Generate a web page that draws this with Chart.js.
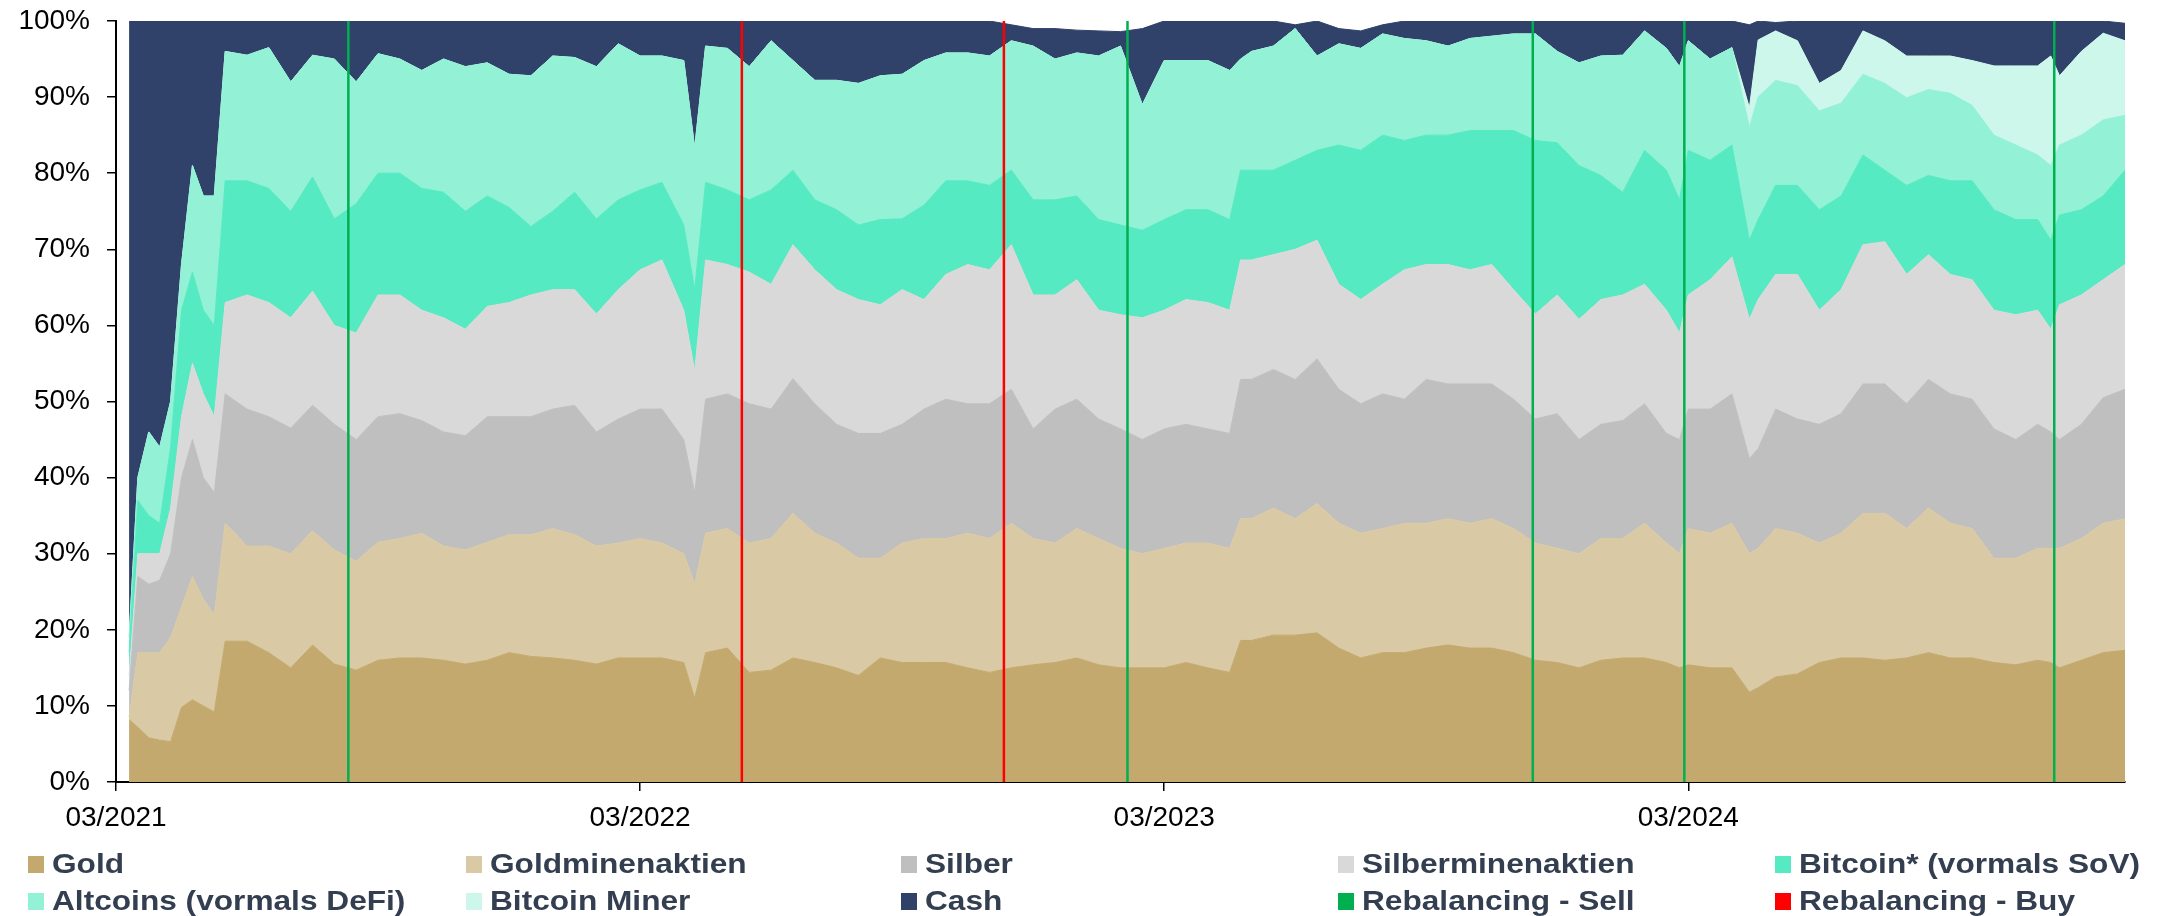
<!DOCTYPE html>
<html>
<head>
<meta charset="utf-8">
<script src="https://cdn.jsdelivr.net/npm/chart.js@4/dist/chart.umd.min.js"></script>
<style>
  body { margin: 0; background: #fff; }
  #wrap { position: relative; width: 2167px; height: 916px; }
  #legend { position: absolute; left: 0; top: 0; width: 2167px; height: 916px; pointer-events: none; }
  .item { position: absolute; display: flex; align-items: center; height: 36px; font: bold 28px "Liberation Sans", Arial, sans-serif; color: #333f50; white-space: nowrap; }
  .box { width: 16px; height: 17px; margin-right: 8px; flex: none; }
  .txt { display: inline-block; transform: scaleX(1.13); transform-origin: left center; }
</style>
</head>
<body>
<div id="wrap">
  <canvas id="chart" width="2167" height="840"></canvas>
  <div id="legend"></div>
</div>
<script>
// months after 03/2021
const months = [0.3, 0.5, 0.75, 1, 1.25, 1.5, 1.75, 2, 2.25, 2.5, 3, 3.5, 4, 4.5, 5, 5.5, 6, 6.5, 7, 7.5,
  8, 8.5, 9, 9.5, 10, 10.5, 11, 11.5, 12, 12.5, 13, 13.25, 13.5, 14, 14.5, 15, 15.5, 16, 16.5, 17,
  17.5, 18, 18.5, 19, 19.5, 20, 20.5, 21, 21.5, 22, 22.5, 23, 23.5, 24, 24.5, 25, 25.5, 25.75, 26, 26.5,
  27, 27.5, 28, 28.5, 29, 29.5, 30, 30.5, 31, 31.5, 32, 32.5, 33, 33.5, 34, 34.5, 35, 35.5, 35.8, 36,
  36.5, 37, 37.4, 37.6, 38, 38.5, 39, 39.5, 40, 40.5, 41, 41.5, 42, 42.5, 43, 43.5, 44, 44.3, 44.5, 45,
  45.5, 46];

// upper edge of each layer in percent (cumulative)
const goldTop = [8.2, 7.2, 5.8, 5.5, 5.3, 9.8, 10.8, 10, 9.2, 18.5, 18.5, 17, 15, 18, 15.5, 14.7, 16, 16.3, 16.3, 16,
  15.5, 16, 17, 16.5, 16.3, 16, 15.5, 16.3, 16.3, 16.3, 15.7, 11, 17, 17.6, 14.4, 14.7, 16.3, 15.7, 15, 14,
  16.3, 15.7, 15.7, 15.7, 15, 14.4, 15, 15.4, 15.7, 16.3, 15.4, 15, 15, 15, 15.7, 15, 14.4, 18.6, 18.6, 19.3,
  19.3, 19.6, 17.6, 16.3, 17, 17, 17.6, 18, 17.6, 17.6, 17, 16, 15.7, 15, 16, 16.3, 16.3, 15.7, 15, 15.4,
  15, 15, 11.8, 12.4, 13.8, 14.2, 15.7, 16.3, 16.3, 16, 16.3, 17, 16.3, 16.3, 15.7, 15.4, 16, 15.7, 15, 16,
  17, 17.3];
const goldMinesTop = [8.5, 17, 17, 17, 19, 23, 27, 24, 22, 34, 31, 31, 30, 33, 30.5, 29, 31.5, 32, 32.7, 31,
  30.5, 31.5, 32.5, 32.5, 33.3, 32.5, 31, 31.4, 32, 31.4, 30, 26, 32.7, 33.3, 31.4, 32, 35.3, 32.7, 31.4, 29.4,
  29.4, 31.4, 32, 32, 32.7, 32, 34, 32, 31.4, 33.3, 32, 30.7, 30, 30.7, 31.4, 31.4, 30.7, 34.6, 34.6, 36,
  34.6, 36.6, 34, 32.7, 33.3, 34, 34, 34.6, 34, 34.6, 33.3, 31.4, 30.7, 30, 32, 32, 34, 31.4, 30, 33.3,
  32.7, 34, 30, 30.7, 33.3, 32.7, 31.4, 32.7, 35.3, 35.3, 33.3, 36, 34, 33.3, 29.4, 29.4, 30.7, 30.7, 30.7, 32,
  34, 34.6];
const silverTop = [12, 27, 26, 26.5, 30, 40, 45, 40, 38, 51, 49, 48, 46.5, 49.5, 47, 45, 48, 48.4, 47.5, 46,
  45.5, 48, 48, 48, 49, 49.5, 46, 47.7, 49, 49, 45, 38, 50.3, 51, 49.7, 49, 53, 49.7, 47, 45.8,
  45.8, 47, 49, 50.3, 49.7, 49.7, 51.6, 46.4, 49, 50.3, 47.7, 46.4, 45, 46.4, 47, 46.4, 45.8, 52.9, 52.9, 54.2,
  52.9, 55.6, 51.6, 49.7, 51, 50.3, 52.9, 52.3, 52.3, 52.3, 50.3, 47.7, 48.4, 45, 47, 47.5, 49.7, 45.8, 45, 49,
  49, 51, 42.5, 43.8, 49, 47.7, 47, 48.4, 52.3, 52.3, 49.7, 52.9, 51, 50.3, 46.4, 45, 47, 46, 45, 47,
  50.5, 51.6];
const silverMinesTop = [14, 30, 30, 30, 36, 48, 55, 51, 48, 63, 64, 63, 61, 64.5, 60, 59, 64, 64, 62, 61,
  59.5, 62.5, 63, 64, 64.7, 64.7, 61.5, 64.7, 67.3, 68.6, 62, 54, 68.6, 68, 67, 65.4, 70.6, 67.3, 64.7, 63.4,
  62.7, 64.7, 63.4, 66.7, 68, 67.3, 70.6, 64, 64, 66, 62, 61.4, 61, 62, 63.4, 63, 62, 68.6, 68.6, 69.3,
  70, 71.2, 65.4, 63.4, 65.4, 67.3, 68, 68, 67.3, 68, 64.7, 61.5, 64, 60.8, 63.4, 64, 65.4, 62, 59, 64,
  66, 69, 60.8, 63.4, 66.7, 66.7, 62, 64.7, 70.6, 71, 66.7, 69.3, 66.7, 66, 62, 61.4, 62, 59.5, 62.7, 64,
  66, 68];
const bitcoinTop = [17, 37, 35, 34, 44, 62, 67, 62, 60, 79, 79, 78, 75, 79.5, 74, 76, 80, 80, 78, 77.5,
  75, 77, 75.5, 73, 75, 77.5, 74, 76.5, 77.8, 78.8, 73.2, 64.7, 78.8, 77.8, 76.5, 77.8, 80.4, 76.5, 75.2, 73.2,
  73.9, 74, 75.8, 79, 79, 78.4, 80.4, 76.5, 76.5, 77, 73.9, 73.2, 72.5, 73.9, 75.2, 75.2, 73.9, 80.4, 80.4, 80.4,
  81.7, 83, 83.7, 83, 85, 84.3, 85, 85, 85.6, 85.6, 85.6, 84.3, 84, 81, 79.7, 77.5, 83, 80.4, 76.5, 83,
  81.7, 83.7, 71.2, 73.9, 78.4, 78.4, 75.2, 77, 82.4, 80.4, 78.4, 79.7, 79, 79, 75.2, 73.9, 73.9, 71.2, 74.5, 75.2,
  77, 80.4];
const altcoinsTop = [19, 40, 46, 44, 50, 68, 81, 77, 77, 96, 95.5, 96.5, 92, 95.5, 95, 92, 95.7, 95, 93.5, 95,
  94, 94.5, 93, 92.8, 95.4, 95.2, 94, 97, 95.4, 95.4, 94.8, 83.3, 96.7, 96.4, 94, 97.4, 94.8, 92.2, 92.2, 91.8,
  92.8, 93, 94.8, 95.8, 95.8, 95.4, 97.4, 96.7, 95, 95.8, 95.4, 96.7, 89, 94.8, 94.8, 94.8, 93.5, 95, 96, 96.7,
  99, 95.4, 97, 96.4, 98.3, 97.7, 97.4, 96.7, 97.7, 98, 98.3, 98.3, 96, 94.5, 95.4, 95.5, 98.7, 96.4, 94, 97.4,
  95, 96.5, 86, 90, 92.2, 91.5, 88.2, 89.2, 93, 91.8, 89.9, 91, 90.5, 88.9, 85, 83.7, 82.4, 81, 83.7, 85,
  87, 87.6];
const minerTop = [19, 40, 46, 44, 50, 68, 81, 77, 77, 96, 95.5, 96.5, 92, 95.5, 95, 92, 95.7, 95, 93.5, 95,
  94, 94.5, 93, 92.8, 95.4, 95.2, 94, 97, 95.4, 95.4, 94.8, 83.3, 96.7, 96.4, 94, 97.4, 94.8, 92.2, 92.2, 91.8,
  92.8, 93, 94.8, 95.8, 95.8, 95.4, 97.4, 96.7, 95, 95.8, 95.4, 96.7, 89, 94.8, 94.8, 94.8, 93.5, 95, 96, 96.7,
  99, 95.4, 97, 96.4, 98.3, 97.7, 97.4, 96.7, 97.7, 98, 98.3, 98.3, 96, 94.5, 95.4, 95.5, 98.7, 96.4, 94, 97.4,
  95, 96.5, 88.6, 97.5, 98.7, 97.4, 91.8, 93.5, 98.7, 97.4, 95.4, 95.4, 95.4, 94.8, 94.1, 94.1, 94.1, 95.4, 92.8, 96,
  98.4, 97.4];
const cashTop = [100, 100, 100, 100, 100, 100, 100, 100, 100, 100, 100, 100, 100, 100, 100, 100, 100, 100, 100, 100,
  100, 100, 100, 100, 100, 100, 100, 100, 100, 100, 100, 100, 100, 100, 100, 100, 100, 100, 100, 100,
  100, 100, 100, 100, 100, 100, 99.5, 99, 99, 98.8, 98.7, 98.6, 99, 100, 100, 100, 100, 100, 100, 100,
  99.5, 100, 99, 98.7, 99.5, 100, 100, 100, 100, 100, 100, 100, 100, 100, 100, 100, 100, 100, 100, 100,
  100, 100, 99.5, 100, 99.8, 100, 100, 100, 100, 100, 100, 100, 100, 100, 100, 100, 100, 100, 100, 100,
  100, 99.7];

const seriesNames = ["Gold", "Goldminenaktien", "Silber", "Silberminenaktien", "Bitcoin* (vormals SoV)",
  "Altcoins (vormals DeFi)", "Bitcoin Miner", "Cash"];
const seriesColors = ["#c3a96d", "#d9caa5", "#bfbfbf", "#d9d9d9", "#55eac1", "#93f1d6", "#ccf7ea", "#30416a"];

// rebalancing dates, months after 03/2021
const sellDates = [5.32, 23.16, 32.44, 35.91, 44.38];
const buyDates = [14.33, 20.33];

const edges = [goldTop, goldMinesTop, silverTop, silverMinesTop, bitcoinTop, altcoinsTop, minerTop, cashTop];
const shares = edges.map((e, k) => e.map((v, i) => +(v - (k ? edges[k - 1][i] : 0)).toFixed(2)));

const areaSets = shares.map((s, k) => ({
  label: seriesNames[k],
  data: months.map((m, i) => ({ x: m, y: s[i] })),
  backgroundColor: seriesColors[k],
  borderColor: seriesColors[k],
  borderWidth: 1,
  pointRadius: 0,
  tension: 0,
  fill: k === 0 ? "origin" : "-1",
  stack: "areas"
}));

function vLines(dates) {
  const pts = [];
  dates.forEach(d => { pts.push({ x: d, y: 0 }, { x: d, y: 100 }, { x: d, y: null }); });
  return pts;
}

const lineSets = [
  { label: "Rebalancing - Sell", data: vLines(sellDates), borderColor: "#00b050", backgroundColor: "#00b050",
    borderWidth: 2.5, pointRadius: 0, fill: false, spanGaps: false, stack: "sell", order: -1 },
  { label: "Rebalancing - Buy", data: vLines(buyDates), borderColor: "#ff0000", backgroundColor: "#ff0000",
    borderWidth: 2.5, pointRadius: 0, fill: false, spanGaps: false, stack: "buy", order: -1 }
];

const tickFont = { family: "'Liberation Sans', Arial, sans-serif", size: 28 };

const chart = new Chart(document.getElementById("chart").getContext("2d"), {
  type: "line",
  data: { datasets: areaSets.concat(lineSets) },
  options: {
    responsive: false,
    animation: false,
    layout: { padding: { top: 21, right: 42, left: 0, bottom: 0 } },
    plugins: { legend: { display: false }, tooltip: { enabled: false } },
    scales: {
      x: {
        type: "linear",
        min: 0,
        max: 46,
        z: 1,
        afterFit: s => { s.height = 58; s.paddingLeft = 0; s.paddingRight = 0; },
        border: { color: "#000", width: 2 },
        grid: { drawOnChartArea: false, drawTicks: true, tickLength: 9, color: "#000", lineWidth: 1.5 },
        ticks: {
          stepSize: 12,
          includeBounds: false,
          autoSkip: false,
          maxRotation: 0,
          padding: 10,
          color: "#000",
          font: tickFont,
          callback: v => (v % 12 === 0 ? "03/" + (2021 + v / 12) : "")
        }
      },
      y: {
        stacked: true,
        min: 0,
        max: 100,
        z: 1,
        afterFit: s => { s.width = 116; s.paddingTop = 0; s.paddingBottom = 0; },
        border: { color: "#000", width: 2 },
        grid: { drawOnChartArea: false, drawTicks: true, tickLength: 9, color: "#000", lineWidth: 1.5 },
        ticks: { stepSize: 10, padding: 17, color: "#000", font: tickFont, callback: v => v + "%" }
      }
    }
  }
});

// legend, 5 columns x 2 rows
const legendEl = document.getElementById("legend");
const colX = [28, 466, 901, 1338, 1775];
const rowY = [864, 901];
chart.data.datasets.forEach((ds, i) => {
  const item = document.createElement("div");
  item.className = "item";
  item.style.left = colX[i % 5] + "px";
  item.style.top = (rowY[Math.floor(i / 5)] - 18) + "px";
  const box = document.createElement("span");
  box.className = "box";
  box.style.background = ds.backgroundColor;
  const txt = document.createElement("span");
  txt.className = "txt";
  txt.textContent = ds.label;
  item.appendChild(box);
  item.appendChild(txt);
  legendEl.appendChild(item);
});
</script>
</body>
</html>
